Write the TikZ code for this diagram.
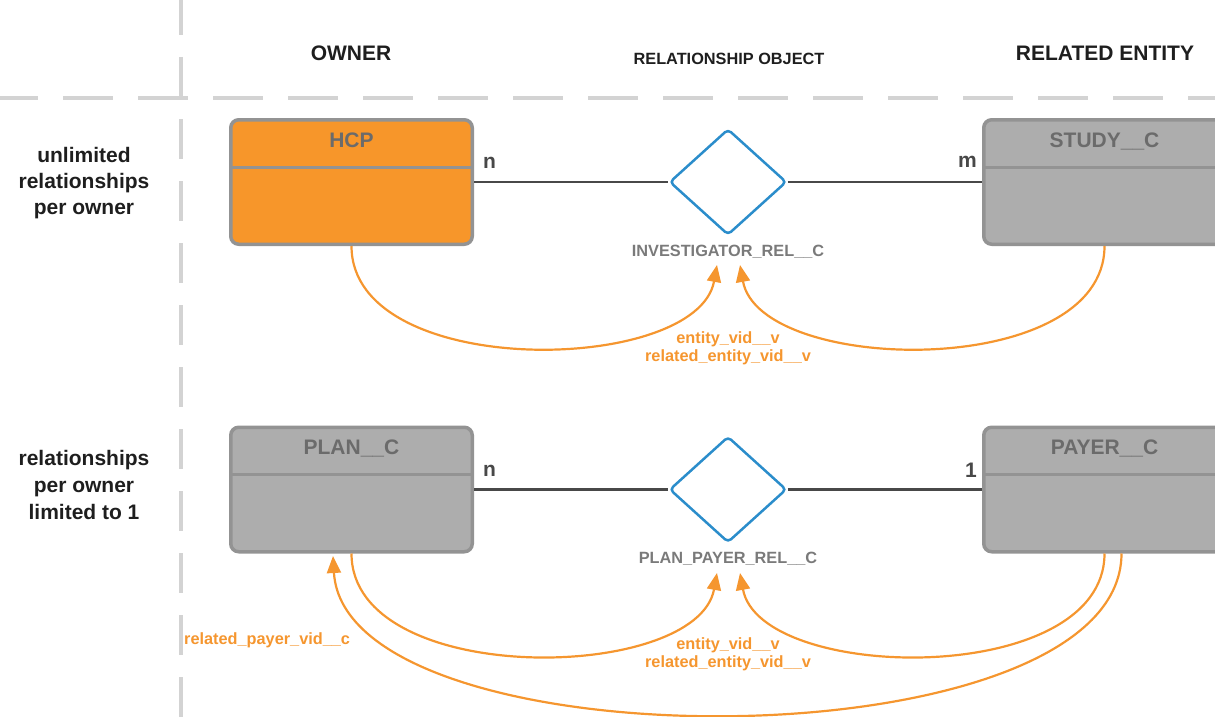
\documentclass[tikz,border=0pt]{standalone}
\usepackage{fontspec}
\setmainfont{Liberation Sans}
\usetikzlibrary{shapes.geometric,arrows.meta,positioning}
\definecolor{hcporange}{HTML}{F7962A}
\definecolor{fkorange}{HTML}{F5962F}
\definecolor{boxgray}{HTML}{ADADAD}
\definecolor{edgegray}{HTML}{939393}
\definecolor{titlegray}{HTML}{6B6B6B}
\definecolor{namegray}{HTML}{7A7A7A}
\definecolor{relblue}{HTML}{2B8DCB}
\definecolor{sepgray}{HTML}{D3D3D3}
\definecolor{hdrblack}{HTML}{1E1E1E}
\definecolor{linkgray}{HTML}{484848}

\begin{document}
\begin{tikzpicture}[x=1pt, y=-1pt,
  every node/.style={font=\bfseries\fontsize{21}{26}\selectfont, inner sep=0pt},
  entity/.style={draw=edgegray, line width=3.5pt, rounded corners=8pt, fill=boxgray, minimum width=241.5pt, minimum height=124.5pt},
  divider/.style={draw=edgegray, line width=3pt},
  boxtitle/.style={text=titlegray, anchor=base},
  relobj/.style={diamond, draw=relblue, line width=2.5pt, rounded corners=4pt, minimum width=117pt, minimum height=106pt},
  relname/.style={text=namegray, anchor=base, font=\bfseries\fontsize{16.3}{18.5}\selectfont},
  hdr/.style={text=hdrblack, anchor=base},
  rowlbl/.style={text=hdrblack, align=center, anchor=north},
  card/.style={text=linkgray, anchor=base west},
  fklbl/.style={text=fkorange, align=center, anchor=north, font=\bfseries\fontsize{16.3}{18.5}\selectfont},
  link/.style={draw=linkgray, line width=2.5pt},
  fk/.style={draw=fkorange, line width=2.2pt, -{Triangle[length=17pt, width=14pt]}},
  sepline/.style={draw=sepgray, line width=3.5pt}
]
\useasboundingbox (0,0) rectangle (1215,717);
\clip (0,0) rectangle (1215,717);

\draw[sepline, dash pattern=on 50pt off 25pt] (-12,98) -- (1215,98);
\draw[sepline, dash pattern=on 40pt off 22pt] (181,-5) -- (181,717);

\node[hdr] (owner) at (351,60) {OWNER};
\node[hdr, font=\bfseries\fontsize{16.3}{18}\selectfont] (relhdr) at (729,64) {RELATIONSHIP OBJECT};
\node[hdr] (related) at (1105,60) {RELATED ENTITY};

\node[rowlbl] (row1) at (84,147) {unlimited\\relationships\\per owner};
\node[rowlbl, font=\bfseries\fontsize{21}{27}\selectfont] (row2) at (84,450) {relationships\\per owner\\limited to 1};

\node[entity, fill=hcporange] (hcp) at (351.5,182) {};
\node[entity] (study) at (1104.5,182) {};
\node[entity] (plan) at (351.5,489.5) {};
\node[entity] (payer) at (1104.5,489.5) {};
\foreach \b in {hcp,study,plan,payer}
  \draw[divider] ([yshift=-49pt]\b.north west) -- ([yshift=-49pt]\b.north east);

\node[boxtitle] (hcptitle) at ([yshift=-29pt]hcp.north) {HCP};
\node[boxtitle] (studytitle) at ([yshift=-29pt]study.north) {STUDY\_\_C};
\node[boxtitle] (plantitle) at ([yshift=-29pt]plan.north) {PLAN\_\_C};
\node[boxtitle] (payertitle) at ([yshift=-29pt]payer.north) {PAYER\_\_C};

\node[relobj] (rel1) at (728,182) {};
\node[relobj] (rel2) at (728,489.5) {};
\draw[link] (hcp) -- (rel1);
\draw[link] (rel1) -- (study);
\draw[link] (plan) -- (rel2);
\draw[link] (rel2) -- (payer);

\node[card] (hcpcard) at (483,168) {n};
\node[card, anchor=base east] (studycard) at (977,167) {m};
\node[card] (plancard) at (483,476) {n};
\node[card, anchor=base east] (payercard) at (977,477) {1};

\node[relname] (rel1name) at (728,256) {INVESTIGATOR\_REL\_\_C};
\node[relname] (rel2name) at (728,563) {PLAN\_PAYER\_REL\_\_C};

\coordinate (rel1own) at (717,265);
\coordinate (rel1ent) at (740,265);
\coordinate (rel2own) at (717,573);
\coordinate (rel2ent) at (740,573);
\coordinate (planin) at (333,556);

\draw[fk] (hcp.south) .. controls +(0,135) and +(-20,110) .. (rel1own);
\draw[fk] (study.south) .. controls +(0,135) and +(20,110) .. (rel1ent);
\draw[fk] (plan.south) .. controls +(0,135) and +(-20,110) .. (rel2own);
\draw[fk] (payer.south) .. controls +(0,135) and +(20,110) .. (rel2ent);
\draw[fk] ([xshift=17pt]payer.south) .. controls +(0,213) and +(12,212) .. (planin);

\node[fklbl] (rel1keys) at (728,331) {entity\_vid\_\_v\\related\_entity\_vid\_\_v};
\node[fklbl] (rel2keys) at (728,637) {entity\_vid\_\_v\\related\_entity\_vid\_\_v};
\node[fklbl, anchor=base west] (payerkey) at (184,644) {related\_payer\_vid\_\_c};
\end{tikzpicture}
\end{document}
